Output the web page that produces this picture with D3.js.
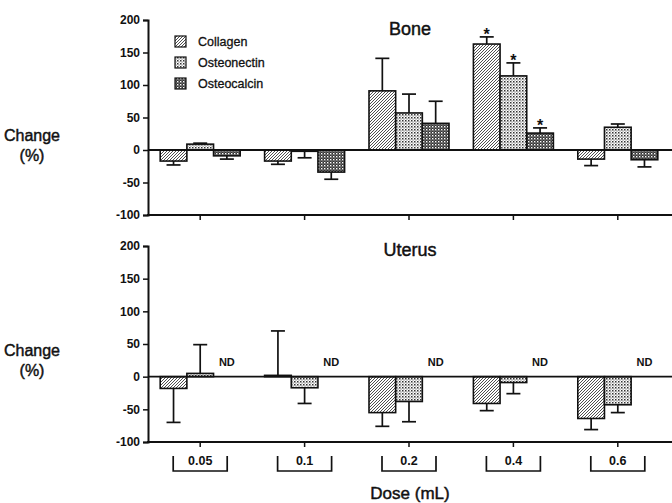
<!DOCTYPE html>
<html>
<head>
<meta charset="utf-8">
<script src="https://cdn.jsdelivr.net/npm/d3@7"></script>
<style>
  body { margin: 0; background: #fff; }
  svg text { font-family: "Liberation Sans", Arial, Helvetica, sans-serif; fill: #111; }
  .tick text { font-size: 12px; font-weight: bold; }
  .heavy { stroke: #111; stroke-width: 0.45px; }
</style>
</head>
<body>
<div id="chart"></div>
<script>
// doses and series
var doses = ["0.05", "0.1", "0.2", "0.4", "0.6"];
var seriesNames = ["Collagen", "Osteonectin", "Osteocalcin"];
var yTicks = [-100, -50, 0, 50, 100, 150, 200];

// Bone panel (% change, SE)
var boneCollagen = [-17, -17, 91, 163, -14];
var boneCollagenErr = [6, 5, 50, 11, 10];
var boneOsteonectin = [9, -2, 57, 114, 35];
var boneOsteonectinErr = [1.5, 10, 29, 20, 5];
var boneOsteocalcin = [-9, -34, 41, 26, -15];
var boneOsteocalcinErr = [5, 11, 34, 8, 11];
var boneStars = ["0.4"];

// Uterus panel (null = ND)
var uterusCollagen = [-18, 2, -55, -41, -64];
var uterusCollagenErr = [52, 68, 21, 11, 17];
var uterusOsteonectin = [5, -17, -38, -9, -43];
var uterusOsteonectinErr = [44, 24, 31, 17, 12];
var uterusOsteocalcin = [null, null, null, null, null];
var uterusOsteocalcinErr = [null, null, null, null, null];

var svgWidth = 672, svgHeight = 503;

var svg = d3.select("#chart").append("svg")
  .attr("width", svgWidth)
  .attr("height", svgHeight);

// fill patterns
var defs = svg.append("defs");
var p1 = defs.append("pattern").attr("id", "pat-Collagen")
  .attr("patternUnits", "userSpaceOnUse").attr("width", 3).attr("height", 3);
p1.append("rect").attr("width", 3).attr("height", 3).attr("fill", "#fff");
p1.append("path").attr("d", "M-1,1 l2,-2 M0,3 l3,-3 M2,4 l2,-2")
  .attr("stroke", "#222").attr("stroke-width", 0.8);

var p2 = defs.append("pattern").attr("id", "pat-Osteonectin")
  .attr("patternUnits", "userSpaceOnUse").attr("width", 3).attr("height", 3);
p2.append("rect").attr("width", 3).attr("height", 3).attr("fill", "#fff");
p2.append("rect").attr("x", 0).attr("y", 0).attr("width", 1.5).attr("height", 1.5).attr("fill", "#333");
p2.append("rect").attr("x", 1.5).attr("y", 1.5).attr("width", 1.1).attr("height", 1.1).attr("fill", "#666");

var p3 = defs.append("pattern").attr("id", "pat-Osteocalcin")
  .attr("patternUnits", "userSpaceOnUse").attr("width", 3).attr("height", 3);
p3.append("rect").attr("width", 3).attr("height", 3).attr("fill", "#333");
p3.append("rect").attr("x", 0).attr("y", 0).attr("width", 1.4).attr("height", 1.4).attr("fill", "#fff");
p3.append("rect").attr("x", 1.5).attr("y", 1.5).attr("width", 1).attr("height", 1).attr("fill", "#ccc");

// shared x scales
var x0 = d3.scaleBand().domain(doses).range([148, 670]).padding(0);
var x1 = d3.scaleBand().domain(seriesNames).range([-40, 40]).padding(0);

function drawPanel(top, bottom, title, titleY, values, errs, stars, labelY) {
  var y = d3.scaleLinear().domain([-100, 200]).range([bottom, top]);

  var g = svg.append("g");

  // y axis
  var yAxis = g.append("g")
    .attr("transform", "translate(148,0)")
    .call(d3.axisLeft(y).tickValues(yTicks).tickSize(5).tickPadding(3)
      .tickFormat(d => String(d)));
  yAxis.select(".domain").attr("stroke-width", 2).attr("stroke", "#111");
  yAxis.selectAll(".tick line").attr("stroke-width", 1.5).attr("stroke", "#111");

  // bottom axis line with ticks at group centers
  g.append("line").attr("x1", 147).attr("x2", 672)
    .attr("y1", y(-100)).attr("y2", y(-100))
    .attr("stroke", "#111").attr("stroke-width", 2);
  g.selectAll(".xt").data(doses).enter().append("line")
    .attr("x1", d => x0(d) + x0.bandwidth() / 2)
    .attr("x2", d => x0(d) + x0.bandwidth() / 2)
    .attr("y1", y(-100)).attr("y2", y(-100) + 5)
    .attr("stroke", "#111").attr("stroke-width", 1.5);

  // bars
  var rows = [];
  seriesNames.forEach(function(s, si) {
    doses.forEach(function(d, di) {
      rows.push({ dose: d, series: s, value: values[si][di], err: errs[si][di] });
    });
  });

  rows.filter(r => r.value !== null).forEach(function(r) {
    var cx = x0(r.dose) + x0.bandwidth() / 2 + x1(r.series);
    var w = x1.bandwidth();
    var end = r.value + (r.value >= 0 ? r.err : -r.err);
    var mid = cx + w / 2;
    g.append("line").attr("x1", mid).attr("x2", mid)
      .attr("y1", y(r.value)).attr("y2", y(end))
      .attr("stroke", "#111").attr("stroke-width", 1.7);
    g.append("line").attr("x1", mid - 7).attr("x2", mid + 7)
      .attr("y1", y(end)).attr("y2", y(end))
      .attr("stroke", "#111").attr("stroke-width", 1.7);
    g.append("rect")
      .attr("x", cx)
      .attr("y", y(Math.max(0, r.value)))
      .attr("width", w)
      .attr("height", Math.abs(y(r.value) - y(0)))
      .attr("fill", "url(#pat-" + r.series + ")")
      .attr("stroke", "#111").attr("stroke-width", 1.6);
    if (stars.indexOf(r.dose) >= 0) {
      g.append("text").attr("x", mid).attr("y", y(end) + 3)
        .attr("text-anchor", "middle").style("font-size", "16px").style("font-weight", "bold")
        .text("*");
    }
  });

  // ND labels
  rows.filter(r => r.value === null).forEach(function(r) {
    var cx = x0(r.dose) + x0.bandwidth() / 2 + x1(r.series) + x1.bandwidth() / 2;
    g.append("text").attr("x", cx).attr("y", y(0) - 11)
      .attr("text-anchor", "middle").style("font-size", "11px").style("font-weight", "bold")
      .text("ND");
  });

  // zero line
  g.append("line").attr("x1", 148).attr("x2", 672)
    .attr("y1", y(0)).attr("y2", y(0))
    .attr("stroke", "#111").attr("stroke-width", 1.8);

  // title
  g.append("text").attr("class", "heavy").attr("x", 410).attr("y", titleY)
    .attr("text-anchor", "middle").style("font-size", "18px")
    .text(title);

  // y label
  g.append("text").attr("class", "heavy").attr("x", 32).attr("y", labelY)
    .attr("text-anchor", "middle").style("font-size", "16px")
    .text("Change");
  g.append("text").attr("class", "heavy").attr("x", 32).attr("y", labelY + 20)
    .attr("text-anchor", "middle").style("font-size", "16px")
    .text("(%)");
}

drawPanel(20, 215, "Bone", 35,
  [boneCollagen, boneOsteonectin, boneOsteocalcin],
  [boneCollagenErr, boneOsteonectinErr, boneOsteocalcinErr],
  boneStars, 141);

drawPanel(246, 442, "Uterus", 256,
  [uterusCollagen, uterusOsteonectin, uterusOsteocalcin],
  [uterusCollagenErr, uterusOsteonectinErr, uterusOsteocalcinErr],
  [], 356);

// legend
var legend = svg.append("g");
seriesNames.forEach(function(s, i) {
  legend.append("rect").attr("x", 175).attr("y", 36 + i * 21)
    .attr("width", 11).attr("height", 11)
    .attr("fill", "url(#pat-" + s + ")").attr("stroke", "#111").attr("stroke-width", 1.2);
  legend.append("text").attr("class", "heavy").attr("x", 198).attr("y", 46 + i * 21)
    .style("font-size", "12.5px").style("stroke-width", "0.3px").text(s);
});

// dose brackets
var br = svg.append("g");
doses.forEach(function(d) {
  var c = x0(d) + x0.bandwidth() / 2;
  br.append("path")
    .attr("d", "M" + (c - 27) + ",456 V471 H" + (c + 27) + " V456")
    .attr("fill", "none").attr("stroke", "#111").attr("stroke-width", 1.7);
  br.append("text").attr("x", c).attr("y", 465)
    .attr("text-anchor", "middle").style("font-size", "12.5px").style("font-weight", "bold")
    .text(d);
});

svg.append("text").attr("class", "heavy").attr("x", 410).attr("y", 499)
  .attr("text-anchor", "middle").style("font-size", "17px")
  .text("Dose (mL)");
</script>
</body>
</html>
